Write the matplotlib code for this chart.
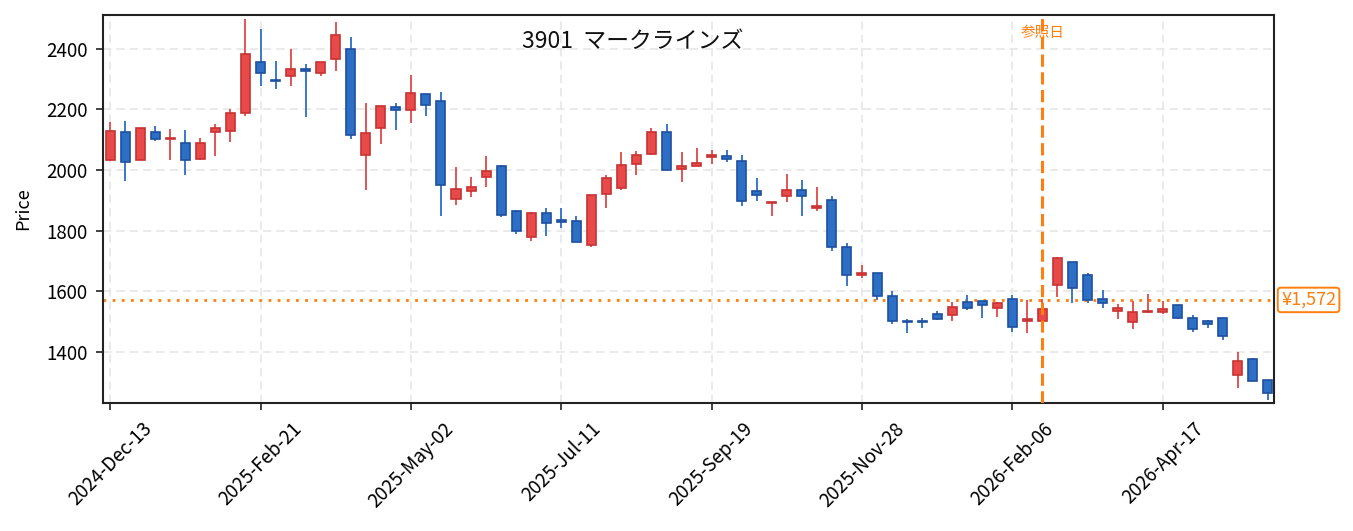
import matplotlib
matplotlib.use("Agg")
import matplotlib.pyplot as plt
import numpy as np

plt.rcParams['font.family'] = ['Noto Sans CJK JP', 'DejaVu Sans']

# Weekly candles starting 2024-12-13 (index 0), 78 weeks
opens = [2033, 2126, 2033, 2126, 2102, 2090, 2036, 2125, 2128, 2187,
         2357, 2298, 2310, 2335, 2319, 2366, 2400, 2051, 2140, 2209,
         2197, 2251, 2228, 1904, 1932, 1976, 2014, 1865, 1779, 1859,
         1837, 1832, 1754, 1920, 1942, 2019, 2052, 2126, 2003, 2015,
         2042, 2048, 2030, 1931, 1890, 1915, 1936, 1874, 1903, 1748,
         1654, 1661, 1585, 1502, 1502, 1525, 1521, 1566, 1568, 1546,
         1576, 1502, 1502, 1622, 1697, 1655, 1576, 1537, 1498, 1531,
         1531, 1555, 1514, 1504, 1511, 1323, 1378, 1308]
closes = [2129, 2027, 2139, 2102, 2106, 2033, 2090, 2139, 2189, 2382,
          2319, 2294, 2335, 2327, 2357, 2446, 2115, 2121, 2210, 2197,
          2255, 2216, 1952, 1938, 1945, 1998, 1851, 1800, 1859, 1825,
          1828, 1764, 1918, 1974, 2017, 2050, 2126, 2002, 2014, 2025,
          2049, 2036, 1897, 1917, 1894, 1936, 1915, 1882, 1746, 1654,
          1662, 1584, 1502, 1498, 1498, 1508, 1549, 1547, 1555, 1563,
          1483, 1508, 1543, 1711, 1612, 1571, 1561, 1545, 1533, 1537,
          1543, 1514, 1476, 1492, 1453, 1370, 1306, 1264]
highs = [2158, 2163, 2140, 2145, 2135, 2132, 2107, 2151, 2203, 2498,
         2465, 2359, 2399, 2349, 2358, 2488, 2438, 2221, 2210, 2221,
         2313, 2252, 2257, 2010, 1976, 2046, 2018, 1870, 1863, 1874,
         1874, 1848, 1919, 1985, 2059, 2063, 2138, 2151, 2059, 2072,
         2068, 2066, 2049, 1973, 1895, 1986, 1967, 1944, 1916, 1761,
         1686, 1662, 1600, 1508, 1511, 1537, 1565, 1587, 1570, 1564,
         1589, 1572, 1575, 1712, 1698, 1662, 1604, 1557, 1568, 1590,
         1569, 1556, 1523, 1505, 1512, 1399, 1379, 1309]
lows = [2030, 1964, 2032, 2096, 2033, 1983, 2035, 2047, 2093, 2179,
        2278, 2269, 2278, 2176, 2311, 2327, 2103, 1935, 2086, 2132,
        2156, 2179, 1849, 1885, 1912, 1945, 1845, 1790, 1766, 1783,
        1810, 1764, 1747, 1876, 1935, 1984, 2051, 2001, 1961, 2014,
        2019, 2028, 1882, 1898, 1849, 1895, 1848, 1866, 1734, 1618,
        1643, 1572, 1491, 1463, 1480, 1507, 1503, 1538, 1512, 1517,
        1467, 1463, 1494, 1582, 1563, 1561, 1545, 1510, 1477, 1530,
        1524, 1510, 1465, 1481, 1441, 1282, 1303, 1243]

tick_idx = [0, 10, 20, 30, 40, 50, 60, 70]
tick_labels = ['2024-Dec-13', '2025-Feb-21', '2025-May-02', '2025-Jul-11',
               '2025-Sep-19', '2025-Nov-28', '2026-Feb-06', '2026-Apr-17']
ref_idx = 62
ref_price = 1572
title = '3901  マークラインズ'

o = np.array(opens); c = np.array(closes); h = np.array(highs); l = np.array(lows)
x = np.arange(len(o))
up = c >= o

fig = plt.figure(figsize=(13.53, 5.31), dpi=100)
ax = fig.add_axes([0.0762, 0.241, 0.8654, 0.731])

up_face, up_edge, up_wick = '#e84a4a', '#c83232', '#e25555'
dn_face, dn_edge, dn_wick = '#2e6fc6', '#1e4fa0', '#3a78cc'

ax.vlines(x[up], l[up], h[up], color=up_wick, lw=1.4, zorder=2)
ax.vlines(x[~up], l[~up], h[~up], color=dn_wick, lw=1.4, zorder=2)
body = np.where(np.abs(c - o) < 3, 3, np.abs(c - o))
bottom = np.minimum(o, c)
bottom = np.where(np.abs(c - o) < 3, (o + c) / 2 - 1.5, bottom)
ax.bar(x[up], body[up], bottom=bottom[up], width=0.6, color=up_face,
       edgecolor=up_edge, linewidth=1.2, zorder=3)
ax.bar(x[~up], body[~up], bottom=bottom[~up], width=0.6, color=dn_face,
       edgecolor=dn_edge, linewidth=1.2, zorder=3)

ax.axvline(ref_idx, color='#ff7f0e', lw=2.2, ls=(0, (4, 1.8)), zorder=4)
ax.axhline(ref_price, color='#ff7f0e', lw=2.0, ls=(0, (1, 2.3)), zorder=1.5)

ax.set_xlim(-0.47, 77.4)
ax.set_ylim(1232, 2512)
ax.set_yticks([1400, 1600, 1800, 2000, 2200, 2400])
ax.set_xticks(tick_idx)
ax.set_xticklabels(tick_labels, rotation=45)
ax.tick_params(labelsize=13.5, length=5, width=1.2, color='#222222', pad=6)
ax.set_ylabel('Price', fontsize=13)
ax.yaxis.set_label_coords(-0.061, 0.5)

ax.grid(True, ls=(0, (5, 3)), color='#e6e6e6', lw=1.2, zorder=0)
ax.set_axisbelow(True)
for s in ax.spines.values():
    s.set_linewidth(1.5)
    s.set_color('#222222')

ax.text(0.452, 0.932, title, transform=ax.transAxes, ha='center', va='center',
        fontsize=16.5, color='#111111')
ax.text(ref_idx, 0.954, '参照日', transform=ax.get_xaxis_transform(),
        ha='center', va='center', fontsize=10.5, color='#ff7f0e', zorder=5)
ax.text(1.006, ref_price, f'¥{ref_price:,}', transform=ax.get_yaxis_transform(),
        ha='left', va='center', fontsize=13, color='#ff7f0e',
        bbox=dict(boxstyle='round,pad=0.18', fc='white', ec='#ff7f0e', lw=1.4),
        clip_on=False)

fig.savefig('out.png', dpi=100)
